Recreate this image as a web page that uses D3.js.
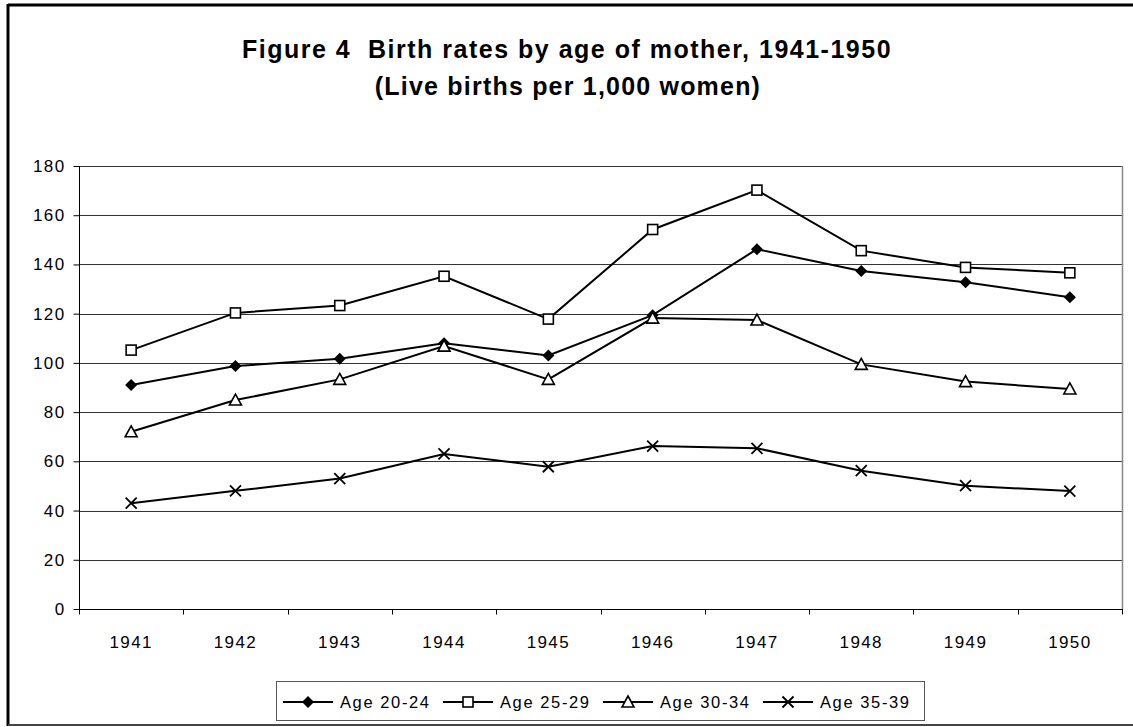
<!DOCTYPE html>
<html>
<head>
<meta charset="utf-8">
<script src="https://cdn.jsdelivr.net/npm/d3@7"></script>
<style>
  body { margin: 0; background: #fff; }
  text { font-family: Arial, "Liberation Sans", sans-serif; }
</style>
</head>
<body>
<svg width="1133" height="727"></svg>
<script>
var years = ['1941', '1942', '1943', '1944', '1945', '1946', '1947', '1948', '1949', '1950'];
var age2024 = [91, 98.7, 101.7, 108, 103, 119.4, 146.2, 137.3, 132.8, 126.7];
var age2529 = [105.2, 120.3, 123.3, 135.2, 117.8, 154.2, 170.2, 145.6, 138.8, 136.6];
var age3034 = [72, 84.9, 93.3, 106.8, 93.3, 118.2, 117.4, 99.4, 92.4, 89.4];
var age3539 = [43, 48, 53, 63, 57.8, 66.2, 65.3, 56.2, 50.1, 47.9];
var seriesNames = ['Age 20-24', 'Age 25-29', 'Age 30-34', 'Age 35-39'];
var yTicks = [0, 20, 40, 60, 80, 100, 120, 140, 160, 180];

var series = [
    { name: seriesNames[0], values: age2024, marker: 'diamond' },
    { name: seriesNames[1], values: age2529, marker: 'square' },
    { name: seriesNames[2], values: age3034, marker: 'triangle' },
    { name: seriesNames[3], values: age3539, marker: 'cross' }
];

var svg = d3.select('svg');

// outer frame
svg.append('line').attr('x1', 8).attr('y1', 5).attr('x2', 1133).attr('y2', 5).attr('stroke', 'black').attr('stroke-width', 3);
svg.append('line').attr('x1', 8).attr('y1', 4).attr('x2', 8).attr('y2', 726).attr('stroke', 'black').attr('stroke-width', 3);
svg.append('line').attr('x1', 8).attr('y1', 725).attr('x2', 1133).attr('y2', 725).attr('stroke', '#444').attr('stroke-width', 2);

svg.append('text').attr('x', 567).attr('y', 58).attr('text-anchor', 'middle').style('white-space', 'pre')
    .attr('font-size', 25).attr('font-weight', 'bold').attr('letter-spacing', 1.5)
    .text('Figure 4  Birth rates by age of mother, 1941-1950');
svg.append('text').attr('x', 568).attr('y', 95).attr('text-anchor', 'middle')
    .attr('font-size', 25).attr('font-weight', 'bold').attr('letter-spacing', 1.2)
    .text('(Live births per 1,000 women)');

var x = d3.scaleBand().domain(years).range([79, 1122]).padding(0);
var y = d3.scaleLinear().domain([0, 180]).range([609, 166]);

// gridlines
svg.append('g').selectAll('line').data(yTicks.slice(1)).enter().append('line')
    .attr('x1', 79).attr('x2', 1122)
    .attr('y1', function (d) { return Math.round(y(d)) + 0.5; })
    .attr('y2', function (d) { return Math.round(y(d)) + 0.5; })
    .attr('stroke', '#333').attr('stroke-width', 1);

// right border of plot area
svg.append('line').attr('x1', 1122.5).attr('y1', y(180)).attr('x2', 1122.5).attr('y2', 609)
    .attr('stroke', '#888').attr('stroke-width', 1.5);

var yAxis = svg.append('g').attr('transform', 'translate(79.5,0)')
    .call(d3.axisLeft(y).tickValues(yTicks).tickSize(6).tickPadding(8).tickSizeOuter(0));
yAxis.select('.domain').attr('d', 'M0,' + y(180) + 'V614');
yAxis.selectAll('text').attr('font-size', 17).attr('letter-spacing', 1.4).attr('fill', 'black')
    .attr('font-family', 'Arial, "Liberation Sans", sans-serif');

var xAxis = svg.append('g').attr('transform', 'translate(0,' + (Math.round(y(0)) + 0.5) + ')')
    .call(d3.axisBottom(x).tickSize(0).tickPadding(26));
xAxis.select('.domain').attr('d', 'M79,0H1123');
xAxis.selectAll('text').attr('font-size', 17).attr('letter-spacing', 1.4).attr('fill', 'black')
    .attr('font-family', 'Arial, "Liberation Sans", sans-serif');
xAxis.selectAll('.bnd').data(years.concat(['end'])).enter().append('line')
    .attr('x1', function (d, i) { return Math.round(79 + i * x.bandwidth()) + 0.5; })
    .attr('x2', function (d, i) { return Math.round(79 + i * x.bandwidth()) + 0.5; })
    .attr('y1', 0).attr('y2', 5).attr('stroke', 'black');

function drawMarker(g, type, cx, cy) {
    if (type == 'diamond') {
        g.append('path').attr('d', 'M' + cx + ',' + (cy - 6) + 'L' + (cx + 6) + ',' + cy + 'L' + cx + ',' + (cy + 6) + 'L' + (cx - 6) + ',' + cy + 'Z')
            .attr('fill', 'black');
    } else if (type == 'square') {
        g.append('rect').attr('x', cx - 5).attr('y', cy - 5).attr('width', 10).attr('height', 10)
            .attr('fill', 'white').attr('stroke', 'black').attr('stroke-width', 1.6);
    } else if (type == 'triangle') {
        g.append('path').attr('d', 'M' + cx + ',' + (cy - 6) + 'L' + (cx + 6) + ',' + (cy + 5) + 'L' + (cx - 6) + ',' + (cy + 5) + 'Z')
            .attr('fill', 'white').attr('stroke', 'black').attr('stroke-width', 1.6);
    } else {
        g.append('path').attr('d', 'M' + (cx - 5.5) + ',' + (cy - 5.5) + 'L' + (cx + 5.5) + ',' + (cy + 5.5) + 'M' + (cx + 5.5) + ',' + (cy - 5.5) + 'L' + (cx - 5.5) + ',' + (cy + 5.5))
            .attr('stroke', 'black').attr('stroke-width', 1.8);
    }
}

var line = d3.line()
    .x(function (d, i) { return x(years[i]) + x.bandwidth() / 2; })
    .y(function (d) { return y(d); });

series.forEach(function (s) {
    svg.append('path').attr('d', line(s.values)).attr('fill', 'none')
        .attr('stroke', 'black').attr('stroke-width', 2);
});
series.forEach(function (s) {
    var g = svg.append('g');
    s.values.forEach(function (v, i) {
        drawMarker(g, s.marker, x(years[i]) + x.bandwidth() / 2, y(v));
    });
});

// legend
svg.append('rect').attr('x', 276.5).attr('y', 681.5).attr('width', 648).attr('height', 39)
    .attr('fill', 'white').attr('stroke', '#555').attr('stroke-width', 1);
series.forEach(function (s, i) {
    var lx = 283 + i * 160;
    var g = svg.append('g');
    g.append('line').attr('x1', lx).attr('x2', lx + 50).attr('y1', 702).attr('y2', 702)
        .attr('stroke', 'black').attr('stroke-width', 2);
    drawMarker(g, s.marker, lx + 25, 702);
    g.append('text').attr('x', lx + 57).attr('y', 708).attr('font-size', 16.5).attr('letter-spacing', 1.6)
        .text(s.name);
});
</script>
</body>
</html>
